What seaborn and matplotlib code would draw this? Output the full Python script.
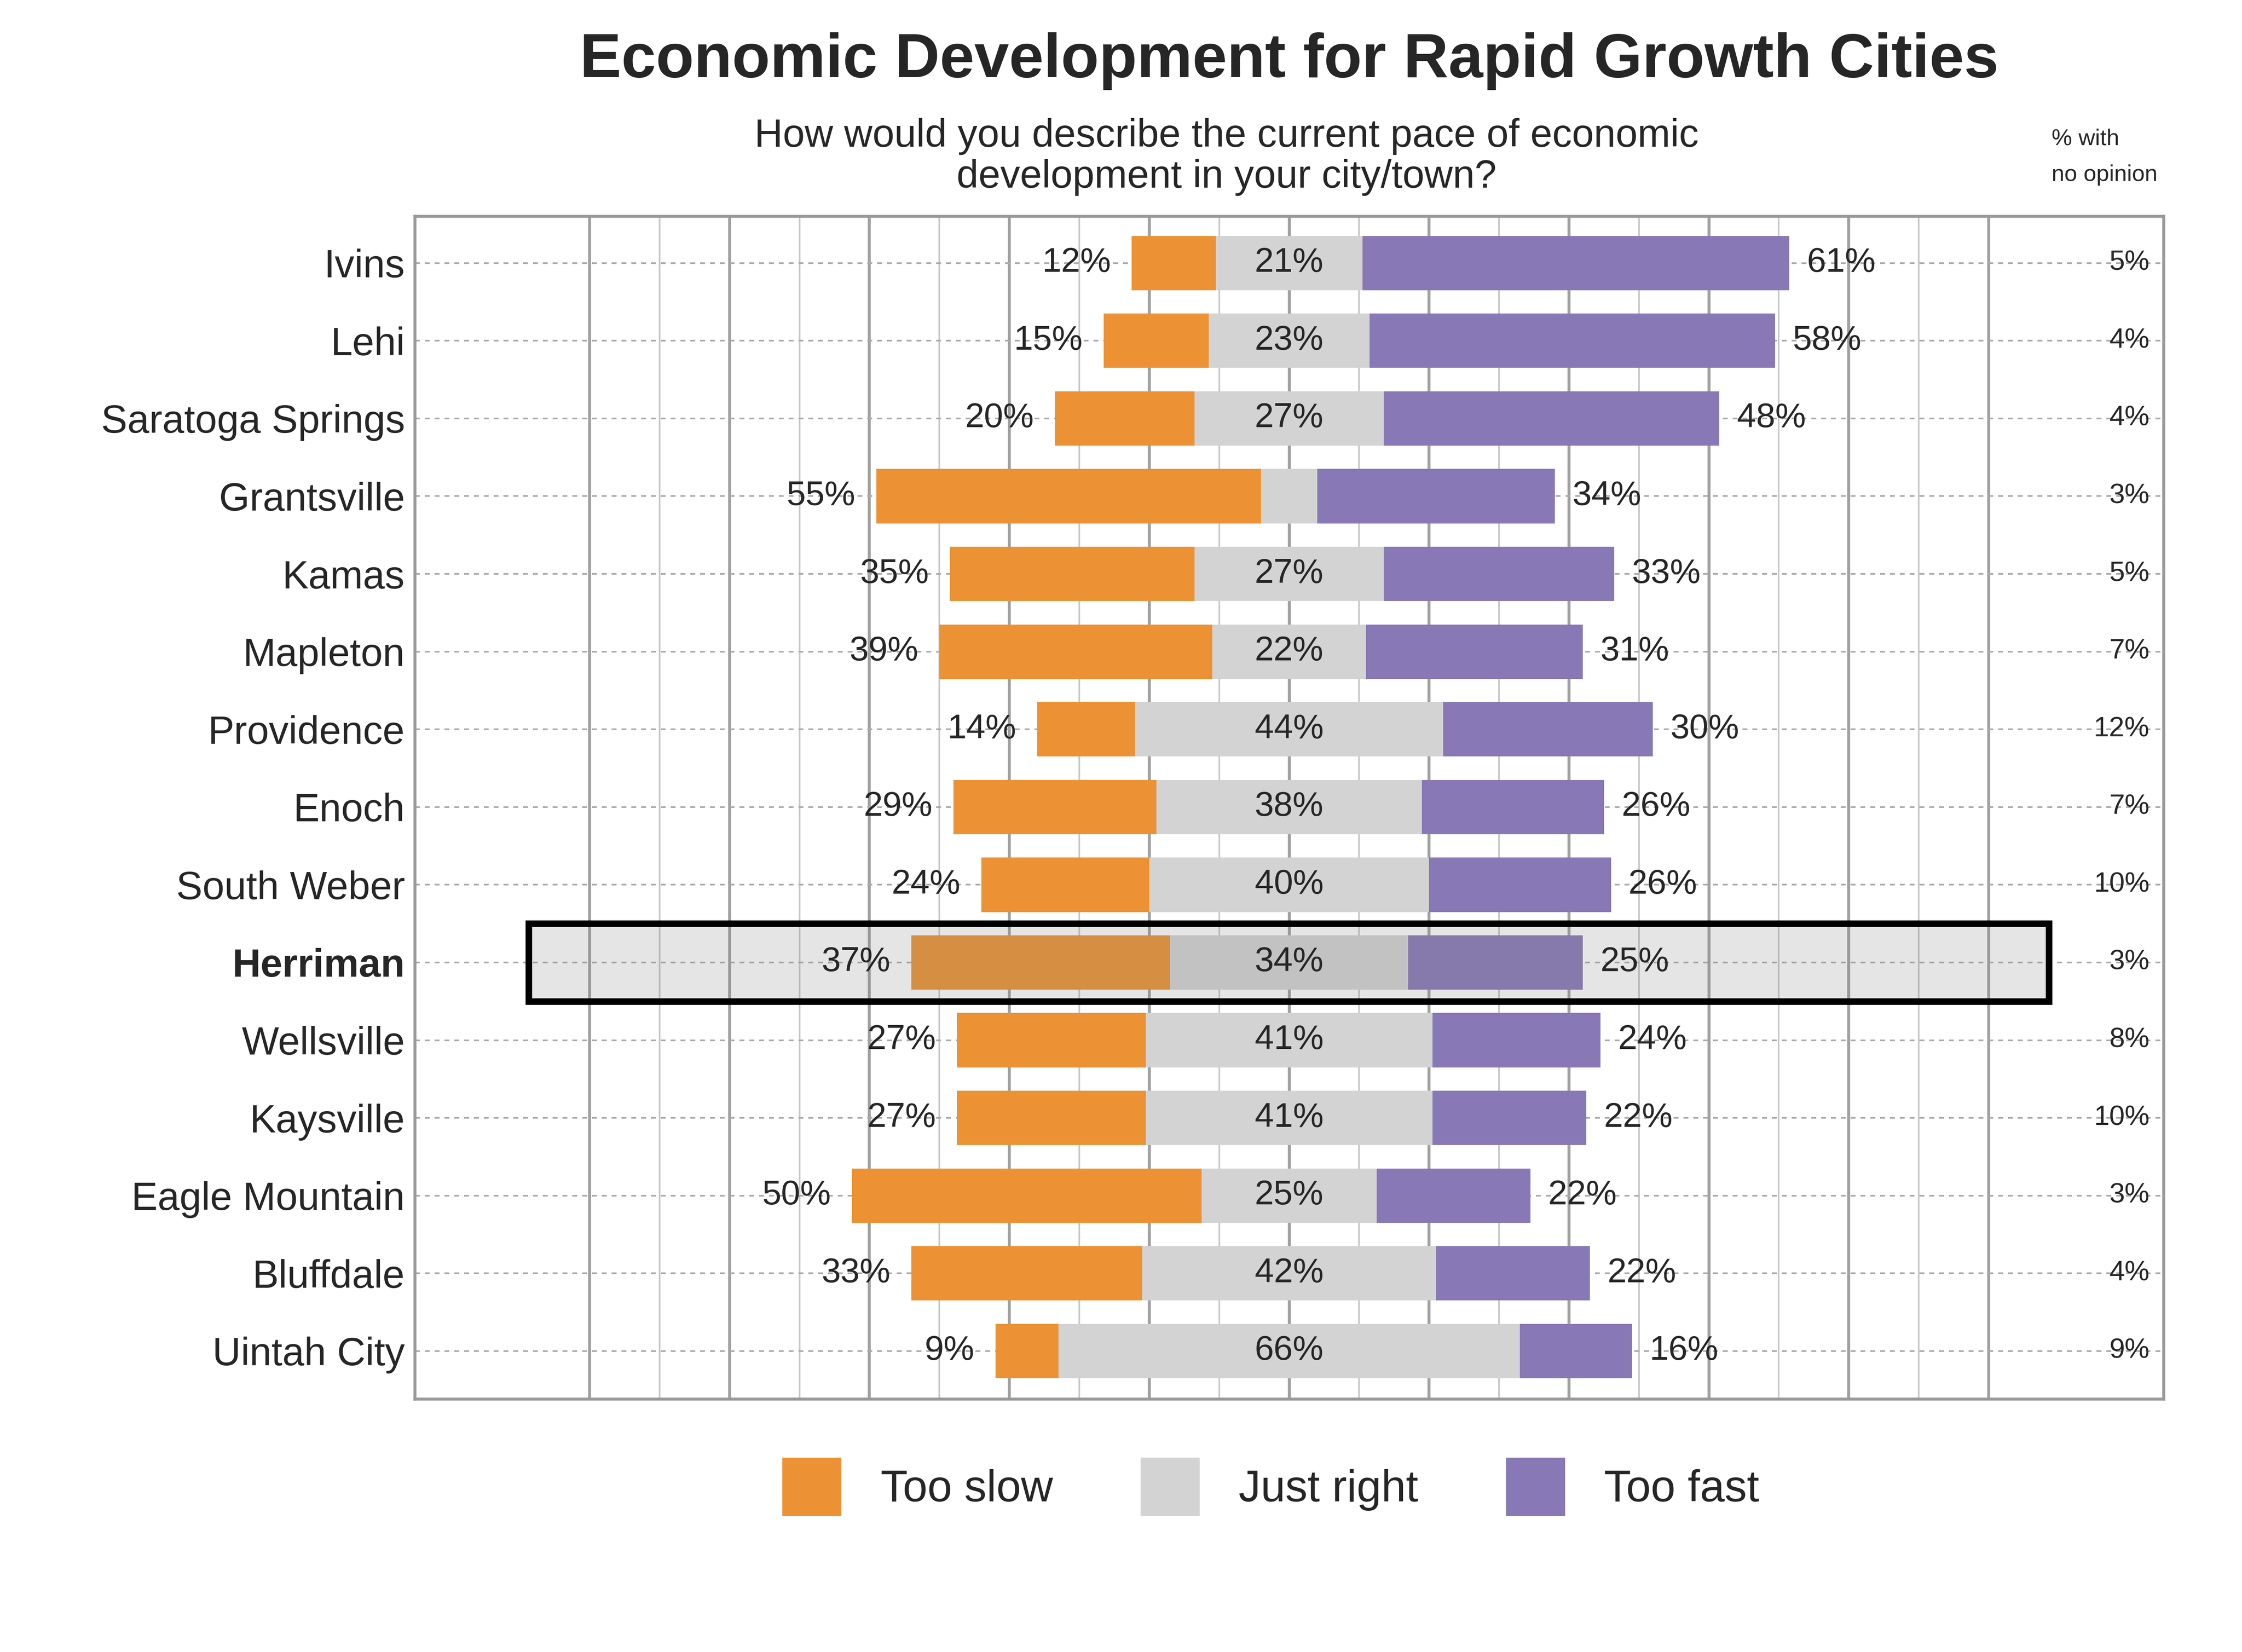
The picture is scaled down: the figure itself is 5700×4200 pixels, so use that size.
import matplotlib
matplotlib.use("Agg")
import matplotlib.pyplot as plt
import seaborn as sns
import pandas as pd
import numpy as np
from matplotlib.patches import Rectangle, Patch

cities = ["Ivins", "Lehi", "Saratoga Springs", "Grantsville", "Kamas", "Mapleton",
          "Providence", "Enoch", "South Weber", "Herriman", "Wellsville", "Kaysville",
          "Eagle Mountain", "Bluffdale", "Uintah City"]
too_slow = [12, 15, 20, 55, 35, 39, 14, 29, 24, 37, 27, 27, 50, 33, 9]
just_right = [21, 23, 27, 8, 27, 22, 44, 38, 40, 34, 41, 41, 25, 42, 66]
too_fast = [61, 58, 48, 34, 33, 31, 30, 26, 26, 25, 24, 22, 22, 22, 16]
no_opinion = [5, 4, 4, 3, 5, 7, 12, 7, 10, 3, 8, 10, 3, 4, 9]
highlight = "Herriman"

C_SLOW, C_JR, C_FAST = "#EC9235", "#D3D3D3", "#8878B6"

sns.set_style("white")
plt.rcParams['font.family'] = ['Liberation Sans', 'DejaVu Sans']

df = pd.DataFrame({"city": cities, "slow": too_slow, "jr": just_right,
                   "fast": too_fast, "noop": no_opinion})
df["right_end"] = df.jr / 2 + df.fast
df["left_end"] = -(df.jr / 2 + df.slow)
df["jr_pos"] = df.jr / 2
df["jr_neg"] = -df.jr / 2

fig = plt.figure(figsize=(19, 14), dpi=300)
ax = fig.add_axes([0.185, 0.153, 0.78, 0.716])

for col, c in [("right_end", C_FAST), ("left_end", C_SLOW), ("jr_pos", C_JR), ("jr_neg", C_JR)]:
    sns.barplot(data=df, x=col, y="city", order=cities, color=c, width=0.7,
                orient="h", ax=ax, zorder=2, saturation=1, edgecolor="none")

ax.set_xlim(-125, 125)
ax.set_ylim(14.62, -0.6)
for v in range(-100, 101, 10):
    if v % 20 == 0:
        ax.axvline(v, color="#A0A0A0", lw=1.8, zorder=0)
    else:
        ax.axvline(v, color="#C8C8C8", lw=1.0, zorder=0)
for i in range(len(cities)):
    ax.axhline(i, color="#AAAAAA", lw=1.0, ls=(0, (3, 3)), zorder=1)

fs = 21
for i, r in df.iterrows():
    ax.text(r.left_end - 3, i, f"{r.slow}%", ha="right", va="center", fontsize=fs, zorder=5)
    ax.text(r.right_end + 2.5, i, f"{r.fast}%", ha="left", va="center", fontsize=fs, zorder=5)
    if r.jr >= 10:
        ax.text(0, i, f"{r.jr}%", ha="center", va="center", fontsize=fs, zorder=5)
    ax.text(123, i, f"{r.noop}%", ha="right", va="center", fontsize=17, zorder=5)

hi = cities.index(highlight)
ax.add_patch(Rectangle((-108.7, hi - 0.5), 217.3, 1.0, facecolor=(0.5, 0.5, 0.5, 0.2),
                       edgecolor="black", lw=4, zorder=4))

ax.set_xlabel("")
ax.set_ylabel("")
ax.set_xticks([])
ax.tick_params(axis="y", length=0, labelsize=24, pad=6)
for lab in ax.get_yticklabels():
    if lab.get_text() == highlight:
        lab.set_fontweight("bold")
for s in ax.spines.values():
    s.set_color("#999999")
    s.set_linewidth(1.8)

fig.text(0.575, 0.963, "Economic Development for Rapid Growth Cities", ha="center", va="center",
         fontsize=38, fontweight="bold")
fig.text(0.547, 0.905, "How would you describe the current pace of economic\ndevelopment in your city/town?",
         ha="center", va="center", fontsize=24, linespacing=1.15)
fig.text(0.915, 0.905, "% with\nno opinion", ha="left", va="center", fontsize=14, linespacing=1.9)

handles = [Patch(color=C_SLOW, label="Too slow"), Patch(color=C_JR, label="Just right"),
           Patch(color=C_FAST, label="Too fast")]
fig.legend(handles=handles, loc="center", bbox_to_anchor=(0.567, 0.1), ncol=3, frameon=False,
           fontsize=27, handlelength=1.3, handleheight=1.6, columnspacing=2.0, handletextpad=0.9)

fig.savefig("out.png", dpi=300)
